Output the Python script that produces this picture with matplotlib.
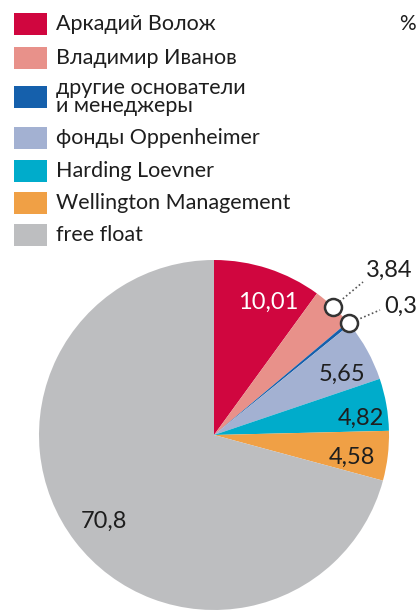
import matplotlib
matplotlib.use("Agg")
import matplotlib.pyplot as plt
import numpy as np
from matplotlib.patches import Rectangle

categories = ["Аркадий Волож", "Владимир Иванов", "другие основатели\nи менеджеры",
              "фонды Oppenheimer", "Harding Loevner", "Wellington Management", "free float"]
values = [10.01, 3.84, 0.3, 5.65, 4.82, 4.58, 70.8]
value_labels = ["10,01", "3,84", "0,3", "5,65", "4,82", "4,58", "70,8"]
colors = ["#D0063F", "#E8918A", "#1560AC", "#A3B1D2", "#00ACCB", "#F0A045", "#BDBEC0"]

W, H = 419, 613
fig = plt.figure(figsize=(W / 100, H / 100), dpi=100)
ax = fig.add_axes([0, 0, 1, 1])

font = "Lato"
cx, cy, R = 214, H - 435, 175
ax.pie(values, colors=colors, startangle=90, counterclock=False,
       center=(cx, cy), radius=R, wedgeprops=dict(linewidth=0), frame=True)
ax.set_xlim(0, W)
ax.set_ylim(0, H)
ax.set_aspect("equal")
ax.axis("off")

# legend
leg_y = [24, 58, 97, 138, 171, 203, 235]
for i, (lab, col) in enumerate(zip(categories, colors)):
    yy = H - leg_y[i]
    ax.add_patch(Rectangle((14, yy - 11), 33, 22, color=col, lw=0))
    ax.text(56, yy, lab, fontsize=15.5, family=font, color="#1e1e1e",
            va="center", ha="left", linespacing=0.92)
ax.text(399, H - 24, "%", fontsize=15, family=font, color="#1e1e1e", va="center", ha="left")

# value labels
cum = np.cumsum([0] + values[:-1])
mid_angles = [90 - (c + v / 2) / 100 * 360 for c, v in zip(cum, values)]
label_pos = {0: (268, 302), 3: (342, 374), 4: (361, 418), 5: (352, 457), 6: (104, 521)}
for i, (x, y) in label_pos.items():
    ax.text(x, H - y, value_labels[i], fontsize=17, family=font,
            color="white" if i == 0 else "#1e1e1e", ha="center", va="center")

# callouts for small slices
callouts = {1: (363, 282, 366, 270), 2: (380, 310, 384, 306)}
for i, (lx, ly, tx, ty) in callouts.items():
    a = np.deg2rad(mid_angles[i])
    px, py = cx + R * np.cos(a), cy + R * np.sin(a)
    ax.plot([px, lx], [py, H - ly], ls=(0, (1, 1.5)), color="#555555", lw=1.2, zorder=4)
    ax.scatter([px], [py], s=150, facecolor="white", edgecolor="#333333", linewidths=1.8, zorder=5)
    ax.text(tx, H - ty, value_labels[i], fontsize=17, family=font, color="#1e1e1e",
            ha="left", va="center")

fig.savefig("out.png", dpi=100)
